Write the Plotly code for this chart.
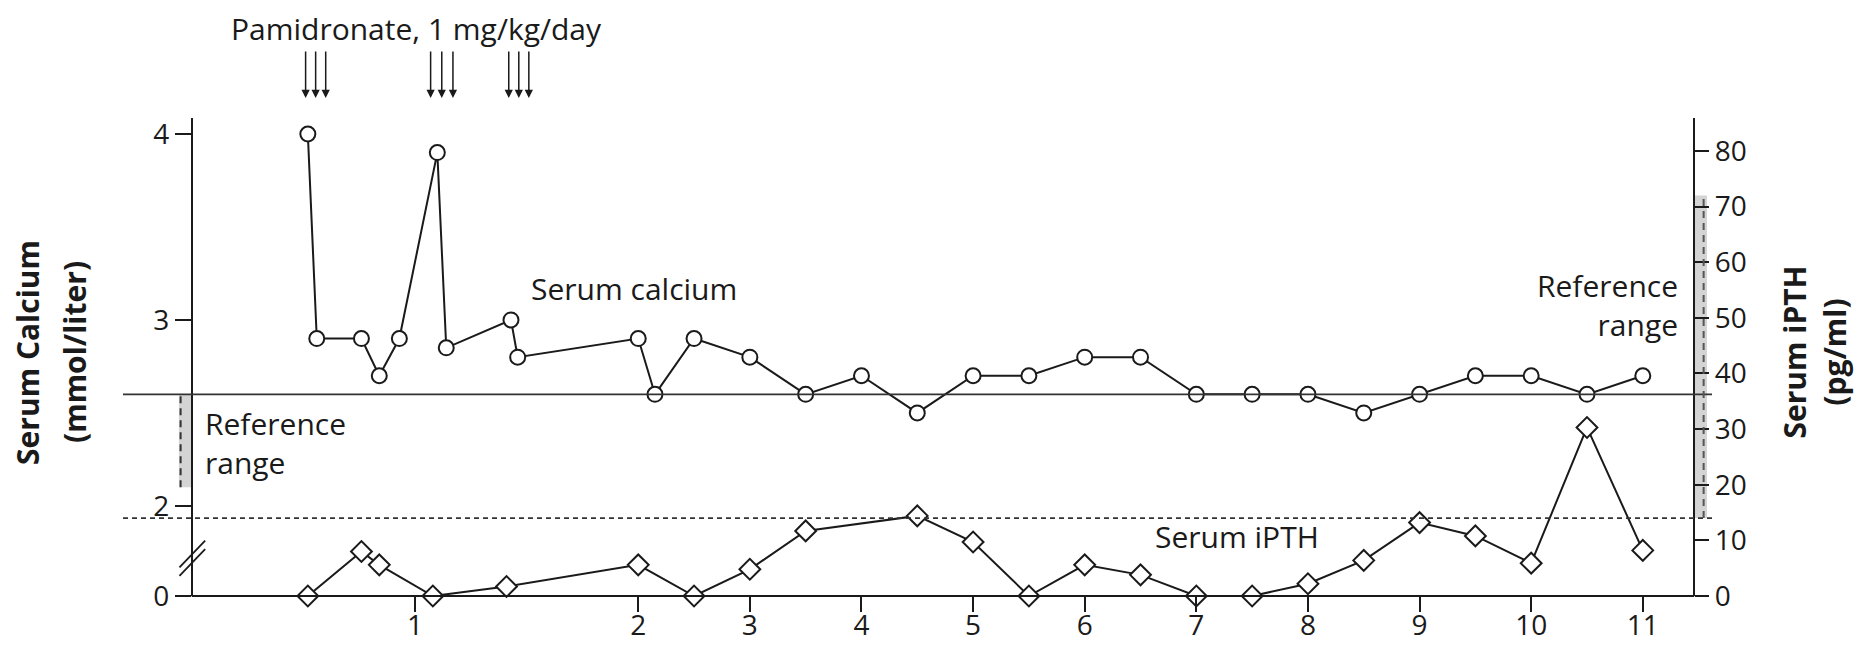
import plotly.graph_objects as go

# ---------------- data ----------------
ca_time = [0.52, 0.56, 0.76, 0.84, 0.93, 1.10, 1.14, 1.43, 1.46, 2.0, 2.15, 2.5, 3, 3.5,
           4, 4.5, 5, 5.5, 6, 6.5, 7, 7.5, 8, 8.5, 9, 9.5, 10, 10.5, 11]
ca_vals = [4.0, 2.9, 2.9, 2.7, 2.9, 3.9, 2.85, 3.0, 2.8, 2.9, 2.6, 2.9, 2.8, 2.6,
           2.7, 2.5, 2.7, 2.7, 2.8, 2.8, 2.6, 2.6, 2.6, 2.5, 2.6, 2.7, 2.7, 2.6, 2.7]

pth_time = [0.52, 0.76, 0.84, 1.08, 1.41, 2.0, 2.5, 3, 3.5, 4.5, 5, 5.5, 6, 6.5,
            7, 7.5, 8, 8.5, 9, 9.5, 10, 10.5, 11]
pth_vals = [0, 8.0, 5.6, 0, 1.7, 5.6, 0, 4.8, 11.7, 14.4, 9.7, 0, 5.6, 3.8,
            0, 0, 2.2, 6.4, 13.2, 10.8, 5.9, 30.3, 8.2]

year_ticks = list(range(1, 12))
year_labels = [str(y) for y in year_ticks]
arrow_times = [0.51, 0.555, 0.60, 1.07, 1.12, 1.17, 1.42, 1.465, 1.51]

ca_ref = [2.1, 2.6]          # mmol/liter
pth_ref = [14, 72]           # pg/ml
ca_ticks = [2, 3, 4]
pth_ticks = list(range(0, 90, 10))

# ---------------- axis helpers ----------------
def axis_pos(t):
    """Years -> axis position (first two years drawn at double scale)."""
    return 2 * t if t <= 2 else t + 2

XMIN, XMAX = -0.616, 13.62
LEFT_AX, RIGHT_AX = 0.0, 13.46
CA_BOTTOM, CA_TOP = 1.5155, 4.086      # broken calcium axis: bottom is labelled 0
PTH_TOP = 85.93

def frac(p):
    return (p - XMIN) / (XMAX - XMIN)

FONT = "Open Sans"
INK = "#1a1a1a"

fig = go.Figure()

fig.add_trace(go.Scatter(
    x=[axis_pos(t) for t in ca_time], y=ca_vals, yaxis="y",
    mode="lines+markers", cliponaxis=False,
    line=dict(color=INK, width=2),
    marker=dict(symbol="circle", size=15, color="white", line=dict(color=INK, width=2)),
    showlegend=False, name="Serum calcium"))

fig.add_trace(go.Scatter(
    x=[axis_pos(t) for t in pth_time], y=pth_vals, yaxis="y2",
    mode="lines+markers", cliponaxis=False,
    line=dict(color=INK, width=2),
    marker=dict(symbol="diamond", size=16, color="white", line=dict(color=INK, width=2)),
    showlegend=False, name="Serum iPTH"))

shapes = []
# x axis line between the two y axes
shapes.append(dict(type="line", xref="x", yref="paper", x0=LEFT_AX, x1=RIGHT_AX, y0=0, y1=0,
                   line=dict(color=INK, width=2), layer="above"))
# upper limit of calcium reference (solid) and lower limit of iPTH reference (dashed)
shapes.append(dict(type="line", xref="paper", yref="y", x0=0, x1=1, y0=ca_ref[1], y1=ca_ref[1],
                   line=dict(color="#333333", width=1.6)))
shapes.append(dict(type="line", xref="paper", yref="y2", x0=0, x1=1, y0=pth_ref[0], y1=pth_ref[0],
                   line=dict(color="#333333", width=1.6, dash="5px,4px")))
# reference range bars
shapes.append(dict(type="rect", xref="x", yref="y", x0=LEFT_AX - 0.115, x1=LEFT_AX,
                   y0=ca_ref[0], y1=ca_ref[1], fillcolor="#d4d4d4", line=dict(width=0), layer="below"))
shapes.append(dict(type="line", xref="x", yref="y", x0=LEFT_AX - 0.1, x1=LEFT_AX - 0.1,
                   y0=ca_ref[0], y1=ca_ref[1], line=dict(color="#333333", width=2, dash="7px,5px")))
shapes.append(dict(type="rect", xref="x", yref="y2", x0=RIGHT_AX, x1=RIGHT_AX + 0.115,
                   y0=pth_ref[0], y1=pth_ref[1], fillcolor="#d4d4d4", line=dict(width=0), layer="below"))
shapes.append(dict(type="line", xref="x", yref="y2", x0=RIGHT_AX + 0.085, x1=RIGHT_AX + 0.085,
                   y0=pth_ref[0], y1=pth_ref[1], line=dict(color="#555555", width=2, dash="7px,5px")))
# axis break marks "//"
for dy in (0.0, 0.018):
    shapes.append(dict(type="line", xref="x", yref="paper",
                       x0=LEFT_AX - 0.11, x1=LEFT_AX + 0.12, y0=0.042 + dy, y1=0.098 + dy,
                       line=dict(color=INK, width=1.8)))

annotations = []
for t in arrow_times:
    annotations.append(dict(x=axis_pos(t), y=1.0418, xref="x", yref="paper", text="",
                            showarrow=True, ax=0, ay=-48, axref="pixel", ayref="pixel",
                            arrowhead=2, arrowsize=1.1, arrowwidth=1.5, arrowcolor=INK))

tf = dict(family=FONT, size=30, color=INK)
annotations += [
    dict(x=axis_pos(1.008), y=1.187, xref="x", yref="paper", text="Pamidronate, 1 mg/kg/day",
         showarrow=False, font=tf, xanchor="center", yanchor="middle", borderpad=0),
    dict(x=axis_pos(1.51), y=3.17, xref="x", yref="y", text="Serum calcium",
         showarrow=False, font=tf, xanchor="left", yanchor="middle"),
    dict(x=axis_pos(7.363), y=10.66, xref="x", yref="y2", text="Serum iPTH",
         showarrow=False, font=tf, xanchor="center", yanchor="middle"),
    dict(x=axis_pos(0.05), y=2.34, xref="x", yref="y", text="Reference<br>range",
         showarrow=False, font=tf, xanchor="left", yanchor="middle", align="left"),
    dict(x=axis_pos(11.336), y=52.3, xref="x", yref="y2", text="Reference<br>range",
         showarrow=False, font=tf, xanchor="right", yanchor="middle", align="right"),
]
bt = dict(family=FONT, size=30, color=INK)
for txt, xp in [("<b>Serum Calcium</b>", -0.0598), ("<b>(mmol/liter)</b>", -0.0302),
                ("<b>Serum iPTH</b>", 1.052), ("<b>(pg/ml)</b>", 1.0772)]:
    annotations.append(dict(x=xp, y=0.5105, xref="paper", yref="paper", text=txt, textangle=-90,
                            showarrow=False, font=bt, xanchor="center", yanchor="middle",
                            borderpad=0))

tickfont = dict(family=FONT, size=28, color=INK)
# the page body adds an 8 px margin, so the figure is 16 px smaller than the window
fig.update_layout(
    width=1848, height=636,
    margin=dict(l=115, r=144, t=110, b=48),
    paper_bgcolor="white", plot_bgcolor="white",
    font=dict(family=FONT, color=INK),
    xaxis=dict(range=[XMIN, XMAX], showgrid=False, zeroline=False, showline=False,
               tickvals=[axis_pos(y) for y in year_ticks], ticktext=year_labels,
               ticks="outside", ticklen=15, tickwidth=2, tickcolor=INK,
               ticklabelstandoff=-11,
               tickfont=tickfont, automargin=False),
    yaxis=dict(range=[CA_BOTTOM, CA_TOP], anchor="free", position=frac(LEFT_AX), side="left",
               showgrid=False, zeroline=False, showline=True, linecolor=INK, linewidth=2,
               tickvals=[CA_BOTTOM + 0.0005] + ca_ticks, ticktext=["0"] + [str(v) for v in ca_ticks],
               ticks="outside", ticklen=16, tickwidth=2, tickcolor=INK,
               tickfont=tickfont, automargin=False),
    yaxis2=dict(range=[0, PTH_TOP], overlaying="y", anchor="free", position=frac(RIGHT_AX),
                side="right", showgrid=False, zeroline=False, showline=True, linecolor=INK,
                linewidth=2, tickvals=pth_ticks, ticks="outside", ticklen=14, tickwidth=2,
                tickcolor=INK, tickfont=tickfont, automargin=False),
    shapes=shapes, annotations=annotations,
)

fig.write_html("out.html")
